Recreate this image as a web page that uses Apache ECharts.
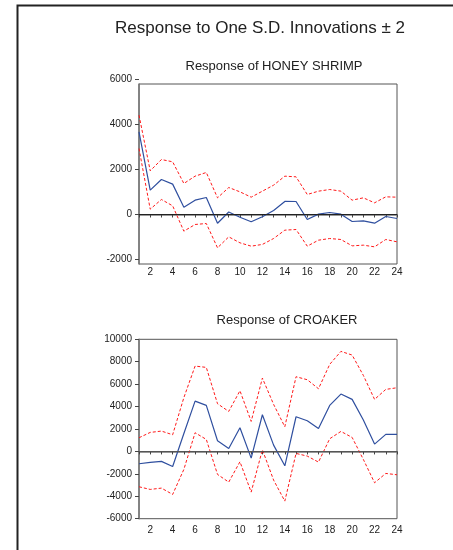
<!DOCTYPE html>
<html>
<head>
<meta charset="utf-8">
<script src="https://cdn.jsdelivr.net/npm/echarts@6/dist/echarts.min.js"></script>
<style>
    html, body { margin: 0; padding: 0; background: #fff; }
    #chart { width: 453px; height: 550px; }
</style>
</head>
<body>
<div id="chart"></div>
<script>
// periods 1..24
var periods = [];
for (var p = 1; p <= 24; p++) { periods.push(String(p)); }

// response of HONEY SHRIMP
var shrimpResp  = [3674, 1081, 1556, 1350, 318, 637, 756, -390, 110, -120, -320, -100, 180, 580, 578, -220, 15, 89, 15, -311, -281, -385, -89, -178];
var shrimpUpper = [4415, 1941, 2444, 2341, 1378, 1704, 1867, 741, 1200, 1007, 770, 1037, 1304, 1704, 1674, 889, 1037, 1111, 1037, 637, 741, 519, 785, 770];
var shrimpLower = [2933, 237, 667, 385, -741, -444, -400, -1481, -993, -1259, -1407, -1330, -1067, -696, -667, -1407, -1141, -1067, -1111, -1393, -1363, -1437, -1111, -1215];

// response of CROAKER
var croakerResp  = [-1100, -980, -890, -1340, 1600, 4490, 4104, 952, 268, 2112, -595, 3271, 565, -1279, 3093, 2736, 2052, 4104, 5115, 4639, 2795, 654, 1517, 1517];
var croakerUpper = [1219, 1695, 1814, 1487, 4800, 7613, 7494, 4253, 3569, 5413, 2676, 6543, 4193, 2201, 6662, 6394, 5591, 7762, 8922, 8595, 6781, 4639, 5532, 5680];
var croakerLower = [-3152, -3390, -3271, -3836, -1600, 1665, 1071, -2052, -2736, -922, -3628, 149, -2558, -4431, -178, -416, -952, 1130, 1784, 1249, -714, -2795, -1963, -2082];

var BLUE = '#2f4f9f',
    RED = '#ff1a1a',
    TEXT = '#222',
    FONT = 'Liberation Sans, Arial, sans-serif';

function catAxis(gridIndex, margin, hidden) {
    return {
        type: 'category',
        gridIndex: gridIndex,
        data: periods,
        boundaryGap: false,
        show: !hidden,
        axisLine: { lineStyle: { color: '#777', width: 1.5 } },
        axisTick: { interval: 0, length: 3, inside: false, lineStyle: { color: '#444' } },
        axisLabel: {
            interval: function (i) { return i % 2 === 1; },
            margin: margin,
            fontSize: 10,
            color: TEXT,
            fontFamily: FONT
        },
        splitLine: { show: false }
    };
}

function valAxis(gridIndex, min, max, labels) {
    return {
        type: 'value',
        gridIndex: gridIndex,
        min: min,
        max: max,
        interval: 2000,
        axisLine: { show: labels, lineStyle: { color: '#777', width: 1.5 } },
        axisTick: { show: labels, length: 4, lineStyle: { color: '#444' } },
        axisLabel: {
            show: labels,
            fontSize: 10,
            color: TEXT,
            fontFamily: FONT,
            margin: 7,
            formatter: function (v) { return String(v); }
        },
        splitLine: { show: false }
    };
}

function bandSeries(idx, data) {
    return {
        type: 'line',
        xAxisIndex: idx,
        yAxisIndex: idx,
        data: data,
        symbol: 'none',
        lineStyle: { color: RED, width: 1, type: [3, 2] },
        z: 3
    };
}

function respSeries(idx, data, zeroColor) {
    return {
        type: 'line',
        xAxisIndex: idx,
        yAxisIndex: idx,
        data: data,
        symbol: 'none',
        lineStyle: { color: BLUE, width: 1.2 },
        z: 4,
        markLine: {
            silent: true,
            symbol: 'none',
            label: { show: false },
            lineStyle: { color: zeroColor, width: 1, type: 'solid' },
            data: [{ yAxis: 0 }]
        }
    };
}

var chart = echarts.init(document.getElementById('chart'));

var option = {
    animation: false,
    backgroundColor: '#fff',
    textStyle: { fontFamily: FONT },
    title: [{
        text: 'Response to One S.D. Innovations \u00b1 2',
        left: 255, top: 15, textAlign: 'center',
        textStyle: { fontSize: 17, fontWeight: 'normal', color: TEXT, fontFamily: FONT }
    }, {
        text: 'Response of HONEY SHRIMP',
        left: 269, top: 55, textAlign: 'center',
        textStyle: { fontSize: 13, fontWeight: 'normal', color: TEXT, fontFamily: FONT }
    }, {
        text: 'Response of CROAKER',
        left: 282, top: 309, textAlign: 'center',
        textStyle: { fontSize: 13, fontWeight: 'normal', color: TEXT, fontFamily: FONT }
    }],
    graphic: [{
        type: 'rect',
        shape: { x: 17.5, y: 5.5, width: 600, height: 700 },
        style: { fill: 'none', stroke: '#222', lineWidth: 2 },
        silent: true,
        z: -1
    }],
    grid: [
        // honey shrimp plot box
        { left: 139, top: 84, width: 258, height: 180, show: true, borderColor: '#555', borderWidth: 1 },
        // croaker plot box
        { left: 139, top: 339.3, width: 258, height: 179.4, show: true, borderColor: '#555', borderWidth: 1 },
        // honey shrimp tick labels (6000 sits above the box)
        { left: 139, top: 79.5, width: 258, height: 180 }
    ],
    xAxis: [catAxis(0, 3, false), catAxis(1, 7, false), catAxis(2, 3, true)],
    yAxis: [
        valAxis(0, -2200, 5800, false),
        valAxis(1, -6000, 10000, true),
        valAxis(2, -2000, 6000, true)
    ],
    series: [
        bandSeries(0, shrimpUpper),
        bandSeries(0, shrimpLower),
        respSeries(0, shrimpResp, '#222'),
        bandSeries(1, croakerUpper),
        bandSeries(1, croakerLower),
        respSeries(1, croakerResp, '#555')
    ]
};
option.yAxis[0].axisLine.show = true;
option.yAxis[2].axisLine.show = false;

chart.setOption(option);
</script>
</body>
</html>
